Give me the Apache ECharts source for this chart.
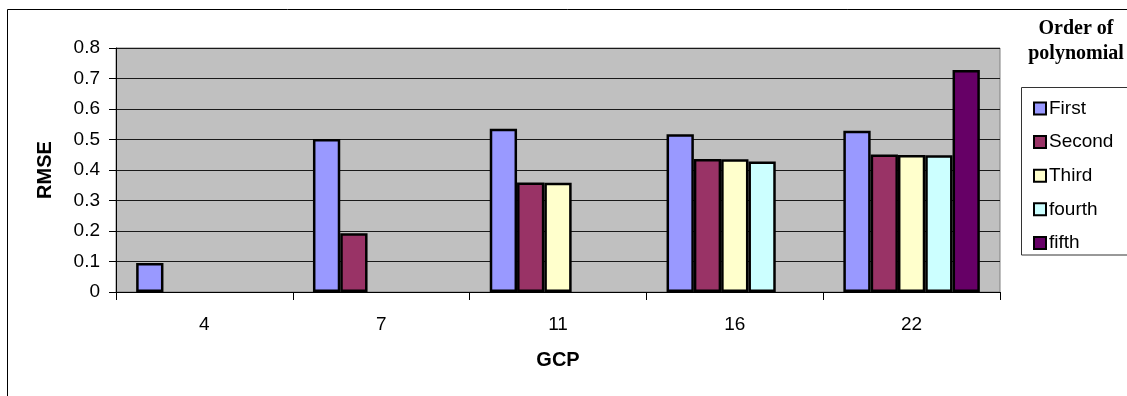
<!DOCTYPE html>
<html>
<head>
<meta charset="utf-8">
<script src="https://cdn.jsdelivr.net/npm/echarts@6/dist/echarts.min.js"></script>
<style>
  html, body { margin: 0; padding: 0; background: #fff; }
  #chart { width: 1127px; height: 396px; }
</style>
</head>
<body>
<div id="chart"></div>
<script>
// Number of ground control points used for each model
const categories = ['4', '7', '11', '16', '22'];

// RMSE per polynomial order (null where that order was not fitted)
const first  = [0.095, 0.502, 0.535, 0.517, 0.529];
const second = [null, 0.193, 0.359, 0.436, 0.451];
const third  = [null, null, 0.358, 0.435, 0.449];
const fourth = [null, null, null, 0.428, 0.448];
const fifth  = [null, null, null, null, 0.728];

const seriesNames = ['First', 'Second', 'Third', 'fourth', 'fifth'];
const seriesData = [first, second, third, fourth, fifth];
const seriesColors = ['#9999FF', '#993366', '#FFFFCC', '#CCFFFF', '#660066'];

const chart = echarts.init(document.getElementById('chart'), null, { renderer: 'canvas' });

const font = 'Liberation Sans, Arial, sans-serif';

chart.setOption({
  animation: false,
  backgroundColor: '#ffffff',
  title: {
    text: 'Order of\npolynomial',
    left: 1071,
    top: 11,
    textAlign: 'center',
    textStyle: {
      fontFamily: 'Liberation Serif, Times New Roman, serif',
      fontWeight: 'bold',
      fontSize: 20,
      lineHeight: 25,
      color: '#000'
    }
  },
  legend: {
    orient: 'vertical',
    left: 1028,
    top: 94,
    itemWidth: 12,
    itemHeight: 12,
    itemGap: 14.6,
    icon: 'rect',
    itemStyle: { borderColor: '#000', borderWidth: 2 },
    textStyle: { fontFamily: font, fontSize: 19, lineHeight: 19, color: '#000', padding: [0, 0, 0, -2] },
    data: seriesNames
  },
  grid: {
    left: 116,
    top: 48,
    right: 127,
    bottom: 104,
    show: true,
    backgroundColor: '#C0C0C0',
    borderColor: '#808080',
    borderWidth: 1
  },
  xAxis: {
    type: 'category',
    data: categories,
    name: 'GCP',
    nameLocation: 'middle',
    nameGap: 58,
    nameTextStyle: { fontFamily: font, fontSize: 20, fontWeight: 'bold', color: '#000' },
    axisLine: { lineStyle: { color: '#000', width: 1 } },
    axisTick: { show: true, length: 8, alignWithLabel: false, lineStyle: { color: '#000' } },
    axisLabel: { fontFamily: font, fontSize: 19, color: '#000', margin: 23 },
    splitLine: { show: false }
  },
  yAxis: {
    type: 'value',
    min: 0,
    max: 0.8,
    interval: 0.1,
    name: 'RMSE',
    nameLocation: 'middle',
    nameGap: 61,
    nameTextStyle: { fontFamily: font, fontSize: 20, fontWeight: 'bold', color: '#000' },
    axisLine: { show: true, lineStyle: { color: '#000', width: 1 } },
    axisTick: { show: true, length: 7, lineStyle: { color: '#000' } },
    axisLabel: {
      fontFamily: font,
      fontSize: 19,
      color: '#000',
      margin: 16,
      formatter: v => (Math.abs(v) < 1e-9 ? '0' : v.toFixed(1))
    },
    splitLine: { show: true, lineStyle: { color: '#1a1a1a', width: 1 } }
  },
  graphic: [
    {
      type: 'rect',
      shape: { x: 7.5, y: 9.5, width: 1140, height: 400 },
      style: { fill: 'none', stroke: '#000', lineWidth: 1 },
      silent: true,
      z: -1
    },
    {
      type: 'rect',
      shape: { x: 1021.5, y: 87.5, width: 120, height: 167.5 },
      style: { fill: 'none', stroke: '#333', lineWidth: 1 },
      silent: true
    }
  ],
  series: seriesNames.map((name, i) => ({
    name: name,
    type: 'bar',
    data: seriesData[i],
    barWidth: 27.3,
    barGap: '0%',
    itemStyle: { color: seriesColors[i], borderColor: '#000', borderWidth: 2.5 }
  }))
});
</script>
</body>
</html>
